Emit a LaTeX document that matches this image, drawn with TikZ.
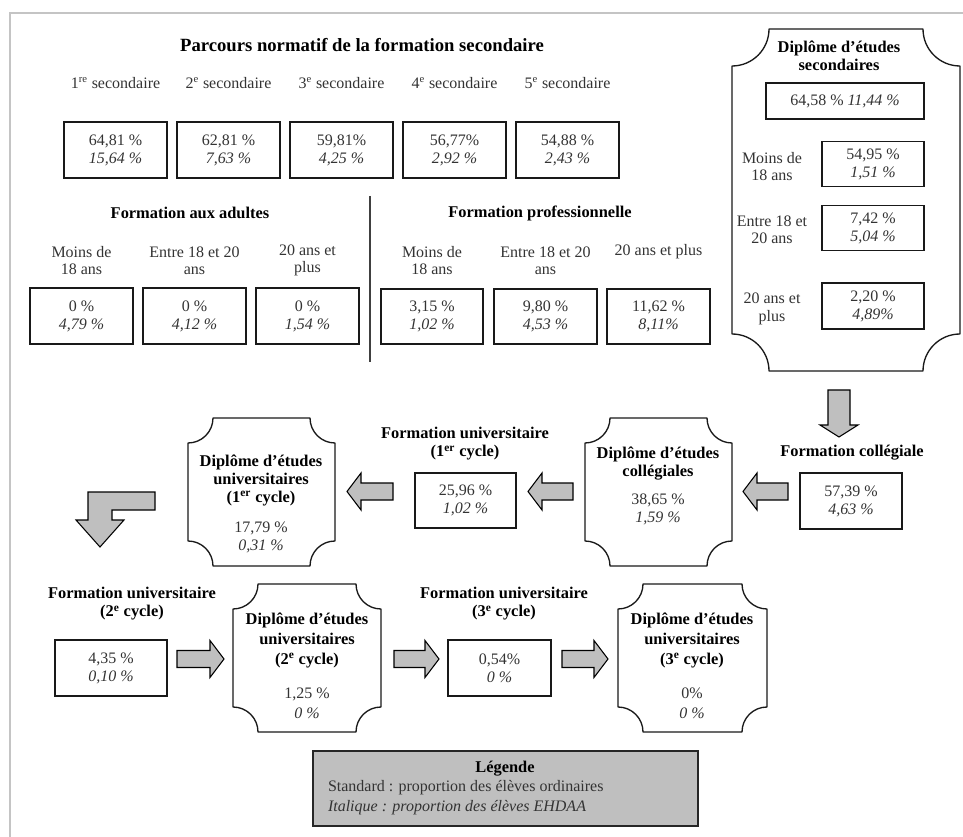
\documentclass[tikz,border=0pt]{standalone}
\usepackage{fontspec}
\setmainfont{Liberation Serif}
\usetikzlibrary{calc}
\definecolor{vtxt}{HTML}{333333}
\definecolor{framegray}{HTML}{C4C4C4}
\definecolor{arrowgray}{HTML}{BFBFBF}
\newcommand\plaque[2]{%
 \draw[plqline] ($(#1.north west)+(#2,0)$) -- ($(#1.north east)+(-#2,0)$)
   .. controls ($(#1.north east)+(-#2,0.5523*#2)$) and ($(#1.north east)+(-0.5523*#2,#2)$) .. ($(#1.north east)+(0,#2)$)
   -- ($(#1.south east)+(0,-#2)$)
   .. controls ($(#1.south east)+(-0.5523*#2,-#2)$) and ($(#1.south east)+(-#2,-0.5523*#2)$) .. ($(#1.south east)+(-#2,0)$)
   -- ($(#1.south west)+(#2,0)$)
   .. controls ($(#1.south west)+(#2,-0.5523*#2)$) and ($(#1.south west)+(0.5523*#2,-#2)$) .. ($(#1.south west)+(0,-#2)$)
   -- ($(#1.north west)+(0,#2)$)
   .. controls ($(#1.north west)+(0.5523*#2,#2)$) and ($(#1.north west)+(#2,0.5523*#2)$) .. ($(#1.north west)+(#2,0)$) -- cycle;}
\newcommand\arrowR[2]{\draw[barrow] ($(#1)+(0,-8.5)$) -- ($(#2)+(-14,-8.5)$) -- ($(#2)+(-14,-18.5)$) -- (#2) -- ($(#2)+(-14,18.5)$) -- ($(#2)+(-14,8.5)$) -- ($(#1)+(0,8.5)$) -- cycle;}
\newcommand\arrowL[2]{\draw[barrow] ($(#1)+(0,-8.5)$) -- ($(#2)+(14,-8.5)$) -- ($(#2)+(14,-18.5)$) -- (#2) -- ($(#2)+(14,18.5)$) -- ($(#2)+(14,8.5)$) -- ($(#1)+(0,8.5)$) -- cycle;}
\begin{document}
\begin{tikzpicture}[x=0.75pt,y=-0.75pt,
  every node/.style={inner sep=0pt, outer sep=0pt},
  lbl/.style={font=\fontsize{12}{13}\selectfont, text=vtxt, align=center},
  vtx/.style={font=\fontsize{12}{13.5}\selectfont, text=vtxt, align=center},
  ttl/.style={font=\bfseries\fontsize{12.3}{13.5}\selectfont, align=center},
  ttlw/.style={font=\bfseries\fontsize{12.3}{15}\selectfont, align=center},
  valbox/.style 2 args={draw=black!90, line width=1pt, minimum width={#1*0.75pt}, minimum height={#2*0.75pt}, align=center, text=vtxt, font=\fontsize{12}{13.5}\selectfont},
  plq/.style 2 args={minimum width={#1*0.75pt}, minimum height={#2*0.75pt}},
  plqline/.style={draw=black!90, line width=1pt, line join=round},
  barrow/.style={draw=black, fill=arrowgray, line width=0.8pt, line join=miter},
  legbox/.style={draw=black!85, fill=arrowgray, line width=1pt, minimum width={385*0.75pt}, minimum height={75*0.75pt}}
]
\useasboundingbox (0,0) rectangle (963,837);
% frame
\coordinate (fbl) at (10,837);
\coordinate (ftl) at (10,13);
\coordinate (ftr) at (963,13);
\draw[framegray, line width=2pt] (fbl) -- (ftl) -- (ftr);

% ---- secondaire
\node[ttl, font=\bfseries\fontsize{14}{16}\selectfont] (t1) at (362,45) {Parcours normatif de la formation secondaire};
\node[lbl] (l1) at (115.5,83) {1\textsuperscript{re} secondaire};
\node[lbl] (l2) at (228.5,83) {2\textsuperscript{e} secondaire};
\node[lbl] (l3) at (341.5,83) {3\textsuperscript{e} secondaire};
\node[lbl] (l4) at (454.5,83) {4\textsuperscript{e} secondaire};
\node[lbl] (l5) at (567.5,83) {5\textsuperscript{e} secondaire};
\node[valbox={103}{56}] (s1) at (115.5,150) {64,81 \%\\\textit{15,64 \%}};
\node[valbox={103}{56}] (s2) at (228.5,150) {62,81 \%\\\textit{7,63 \%}};
\node[valbox={103}{56}] (s3) at (341.5,150) {59,81\%\\\textit{4,25 \%}};
\node[valbox={103}{56}] (s4) at (454.5,150) {56,77\%\\\textit{2,92 \%}};
\node[valbox={103}{56}] (s5) at (567.5,150) {54,88 \%\\\textit{2,43 \%}};

% ---- adultes
\node[ttl] (fa) at (190,213) {Formation aux adultes};
\node[lbl] (fal1) at (81.5,260.5) {Moins de\\18 ans};
\node[lbl] (fal2) at (194.5,260.5) {Entre 18 et 20\\ans};
\node[lbl] (fal3) at (307.5,260.5) {20 ans et\\plus};
\node[valbox={103}{56}] (a1) at (81.5,316) {0 \%\\\textit{4,79 \%}};
\node[valbox={103}{56}] (a2) at (194.5,316) {0 \%\\\textit{4,12 \%}};
\node[valbox={103}{56}] (a3) at (307.5,316) {0 \%\\\textit{1,54 \%}};
\coordinate (sep1) at (370,196);
\coordinate (sep2) at (370,362);
\draw[black!75, line width=1.1pt] (sep1) -- (sep2);

% ---- professionnelle
\node[ttl] (fp) at (540,213) {Formation professionnelle};
\node[lbl] (fpl1) at (432,260.5) {Moins de\\18 ans};
\node[lbl] (fpl2) at (545.5,260.5) {Entre 18 et 20\\ans};
\node[lbl] (fpl3) at (658.5,252) {20 ans et plus};
\node[valbox={102}{55}] (p1) at (432,316.5) {3,15 \%\\\textit{1,02 \%}};
\node[valbox={103}{55}] (p2) at (545.5,316.5) {9,80 \%\\\textit{4,53 \%}};
\node[valbox={103}{55}] (p3) at (658.5,316.5) {11,62 \%\\\textit{8,11\%}};

% ---- DES
\node[plq={228}{342}] (des) at (846,200) {};
\plaque{des}{37}
\node[ttl] (dest) at (839,55.5) {Diplôme d’études\\secondaires};
\node[valbox={158}{36}] (d0) at (845,101) {64,58 \% \textit{11,44 \%}};
\node[lbl] (dl1) at (772,166.5) {Moins de\\18 ans};
\node[valbox={102}{45}] (d1) at (873,164) {54,95 \%\\\textit{1,51 \%}};
\node[lbl] (dl2) at (772,230) {Entre 18 et\\20 ans};
\node[valbox={102}{45}] (d2) at (873,228) {7,42 \%\\\textit{5,04 \%}};
\node[lbl] (dl3) at (772,309) {20 ans et\\plus};
\node[valbox={102}{46}] (d3) at (873,306) {2,20 \%\\\textit{4,89\%}};

% ---- collegiale
\node[ttl] (colt) at (852,453) {Formation collégiale};
\node[valbox={102}{56}] (col) at (851,501) {57,39 \%\\\textit{4,63 \%}};
\coordinate (dstart) at ($(des.south)+(-7,19)$);
\coordinate (dtip) at ($(des.south)+(-7,66)$);
\draw[barrow] ($(dstart)+(-11,0)$) -- ($(dtip)+(-11,-12)$) -- ($(dtip)+(-19,-12)$) -- (dtip) -- ($(dtip)+(19,-12)$) -- ($(dtip)+(11,-12)$) -- ($(dstart)+(11,0)$) -- cycle;

% ---- DEC
\node[plq={147}{148}] (dec) at (658.5,492) {};
\plaque{dec}{25}
\node[ttl] (dect) at (658,463.5) {Diplôme d’études\\collégiales};
\node[vtx] (decv) at (658,509) {38,65 \%\\\textit{1,59 \%}};

% ---- FU1
\node[ttl] (fu1t) at (465,444) {Formation universitaire\\(1\textsuperscript{er} cycle)};
\node[valbox={101}{55}] (fu1) at (465.5,500.5) {25,96 \%\\\textit{1,02 \%}};

% ---- DEU1
\node[plq={147}{148}] (deu1) at (261.5,492) {};
\plaque{deu1}{25}
\node[ttl] (deu1t) at (261,480.5) {Diplôme d’études\\universitaires\\(1\textsuperscript{er} cycle)};
\node[vtx] (deu1v) at (261,537.5) {17,79 \%\\\textit{0,31 \%}};

% middle arrows
\coordinate (mA1) at ($(col.west)+(-12,-9.5)$);
\coordinate (mA2) at ($(dec.east)+(11,-0.5)$);
\arrowL{mA1}{mA2}
\coordinate (mB1) at ($(dec.west)+(-12,-0.5)$);
\coordinate (mB2) at ($(fu1.east)+(12,-9)$);
\arrowL{mB1}{mB2}
\coordinate (mC1) at ($(fu1.west)+(-22,-9)$);
\coordinate (mC2) at ($(deu1.east)+(12,-0.5)$);
\arrowL{mC1}{mC2}

% bent arrow
\coordinate (bs) at ($(deu1.west)+(-33,9)$);
\coordinate (bt) at ($(deu1.west)+(-88,55)$);
\draw[barrow] ($(bs)+(0,-9)$) -- ($(bt)+(-12,-55)$) -- ($(bt)+(-12,-27)$) -- ($(bt)+(-24,-27)$) -- (bt) -- ($(bt)+(24,-27)$) -- ($(bt)+(12,-27)$) -- ($(bt)+(12,-37)$) -- ($(bs)+(0,9)$) -- cycle;

% ---- bottom row
\node[ttl] (fu2t) at (132,604) {Formation universitaire\\(2\textsuperscript{e} cycle)};
\node[valbox={112}{56}] (fu2) at (111,668) {4,35 \%\\\textit{0,10 \%}};

\node[plq={148}{148}] (deu2) at (307,658) {};
\plaque{deu2}{25}
\node[ttlw] (deu2t) at (307,640) {Diplôme d’études\\universitaires\\(2\textsuperscript{e} cycle)};
\node[vtx,font=\fontsize{12}{15}\selectfont] (deu2v) at (307,703) {1,25 \%\\\textit{0 \%}};

\node[ttl] (fu3t) at (504,604) {Formation universitaire\\(3\textsuperscript{e} cycle)};
\node[valbox={103}{56}] (fu3) at (499.5,668) {0,54\%\\\textit{0 \%}};

\node[plq={149}{148}] (deu3) at (692.5,658) {};
\plaque{deu3}{25}
\node[ttlw] (deu3t) at (692,640) {Diplôme d’études\\universitaires\\(3\textsuperscript{e} cycle)};
\node[vtx,font=\fontsize{12}{15}\selectfont] (deu3v) at (692,703.5) {0\%\\\textit{0 \%}};

\coordinate (b1s) at ($(fu2.east)+(10,-9)$);
\coordinate (b1e) at ($(deu2.west)+(-9,1)$);
\arrowR{b1s}{b1e}
\coordinate (b2s) at ($(deu2.east)+(13,1)$);
\coordinate (b2e) at ($(fu3.west)+(-9,-9)$);
\arrowR{b2s}{b2e}
\coordinate (b3s) at ($(fu3.east)+(11,-9)$);
\coordinate (b3e) at ($(deu3.west)+(-10,1)$);
\arrowR{b3s}{b3e}

% ---- legend
\node[legbox] (leg) at (505.5,788.5) {};
\node[ttl] (legt) at (505,769) {Légende};
\node[lbl, anchor=west] (leg1) at (328,788) {Standard : proportion des élèves ordinaires};
\node[lbl, anchor=west] (leg2) at (328,808) {\textit{Italique : proportion des élèves EHDAA}};
\end{tikzpicture}
\end{document}
